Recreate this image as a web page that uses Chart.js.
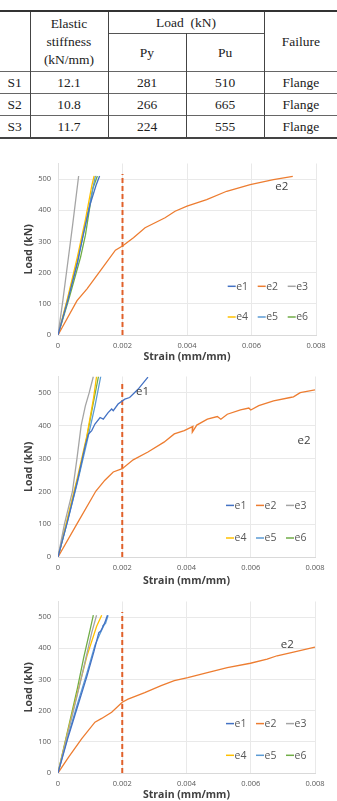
<!DOCTYPE html>
<html><head><meta charset="utf-8">
<script src="https://cdn.jsdelivr.net/npm/chart.js@4.4.1/dist/chart.umd.min.js"></script>
<style>
html,body{margin:0;padding:0;background:#fff;width:337px;height:801px;overflow:hidden;position:relative;}
table.t{position:absolute;left:0;top:10px;width:337px;border-collapse:collapse;table-layout:fixed;font-family:"Liberation Serif","DejaVu Serif","Times New Roman",Times,serif;font-size:13.5px;color:#222;}
table.t td{font-family:"Liberation Serif","DejaVu Serif",serif;text-align:center;vertical-align:middle;padding:0;border-left:1px solid #444;border-right:1px solid #444;line-height:18px;}
table.t tr td:first-child{border-left:none;}
table.t tr td:last-child{border-right:none;}
table.t tr.h1 td{border-top:2.5px solid #333;height:21px;}
table.t tr.h2 td{height:37px;border-top:1px solid #555;}
table.t tr.r td{height:21px;border-top:1px solid #666;}
table.t tr.r.last td{border-bottom:2px solid #444;}
.c{position:absolute;left:0;}
</style></head>
<body>
<table class="t" id="tbl">
<colgroup><col style="width:30px"><col style="width:78px"><col style="width:78px"><col style="width:78px"><col style="width:73px"></colgroup>
<tr class="h1"><td rowspan="2"></td><td rowspan="2">Elastic<br>stiffness<br>(kN/mm)</td><td colspan="2">Load&nbsp;&nbsp;(kN)</td><td rowspan="2">Failure</td></tr>
<tr class="h2"><td>Py</td><td>Pu</td></tr>
</table>
<div class="c" style="top:152px;width:337px;height:211px"><canvas id="c1"></canvas></div>
<div class="c" style="top:365px;width:337px;height:222px"><canvas id="c2"></canvas></div>
<div class="c" style="top:590px;width:337px;height:211px"><canvas id="c3"></canvas></div>
<script>
// ---- table data ----
const specimens = ['S1','S2','S3'];
const stiffness = ['12.1','10.8','11.7'];
const loadPy = [281,266,224];
const loadPu = [510,665,555];
const failure = ['Flange','Flange','Flange'];

// ---- chart data ----
const xTicks = [0,0.002,0.004,0.006,0.008];
const yTicks = [0,100,200,300,400,500];
const yMax = 550;
const seriesLabels = ['e1','e2','e3','e4','e5','e6'];
const yieldStrain = 0.002;

// S1 : [strain, load]
const s1e1 = [[0,0],[0.0003,110],[0.0006,230],[0.0008,330],[0.001,420],[0.00118,480],[0.00129,510]];
const s1e2 = [[0,0],[0.00059,110],[0.0009,148],[0.00131,206],[0.00178,272],[0.00201,286],[0.00234,312],[0.0027,344],[0.00332,376],[0.00363,397],[0.004,413],[0.00461,434],[0.00523,461],[0.00596,482],[0.00668,498],[0.00728,509]];
const s1e3 = [[0,0],[0.00015,110],[0.0003,230],[0.00045,350],[0.00064,510]];
const s1e4 = [[0,0],[0.0003,120],[0.0006,250],[0.00085,370],[0.00105,480],[0.00112,510]];
const s1e5 = [[0,0],[0.0003,115],[0.0006,235],[0.0008,330],[0.001,430],[0.00116,510]];
const s1e6 = [[0,0],[0.00035,120],[0.0007,250],[0.00085,320],[0.001,420],[0.00108,470],[0.00122,510]];

// S2
const s2e1 = [[0,0],[0.0003,110],[0.0006,230],[0.00085,340],[0.00095,375],[0.00105,385],[0.00115,405],[0.00131,425],[0.00141,420],[0.00156,440],[0.00167,451],[0.00172,446],[0.00187,466],[0.00208,481],[0.00223,486],[0.00249,511],[0.0028,548]];
const s2e2 = [[0,0],[0.00059,101],[0.00118,201],[0.00146,234],[0.00172,259],[0.002,269],[0.00234,296],[0.0028,320],[0.0033,350],[0.00362,375],[0.00393,385],[0.0042,398],[0.00418,380],[0.00432,402],[0.00465,420],[0.00496,428],[0.00507,420],[0.00527,435],[0.00568,448],[0.00594,454],[0.006,448],[0.00625,461],[0.00671,476],[0.00723,486],[0.00733,488],[0.00754,501],[0.008,509]];
const s2e3 = [[0,0],[0.0002,100],[0.00045,200],[0.00059,300],[0.00072,400],[0.00085,460],[0.00097,500],[0.0011,550]];
const s2e4 = [[0,0],[0.0003,120],[0.0006,240],[0.0009,370],[0.0011,480],[0.0012,550]];
const s2e5 = [[0,0],[0.0003,110],[0.0006,225],[0.0009,350],[0.00115,460],[0.00133,550]];
const s2e6 = [[0,0],[0.0003,115],[0.0006,235],[0.00065,250],[0.0009,365],[0.0011,470],[0.00126,550]];

// S3
const s3e1 = [[0,0],[0.0003,110],[0.0006,210],[0.0009,310],[0.00112,390],[0.00122,430],[0.00127,450],[0.00133,455],[0.00145,480],[0.00154,506]];
const s3e2 = [[0,0],[0.00033,51],[0.00074,110],[0.00115,163],[0.00136,175],[0.00167,195],[0.002,227],[0.00218,237],[0.0027,258],[0.00321,280],[0.00362,296],[0.00404,306],[0.00465,322],[0.00527,338],[0.00599,352],[0.00651,365],[0.00682,376],[0.00733,388],[0.008,404]];
const s3e3 = [[0,0],[0.0003,125],[0.0006,250],[0.00085,360],[0.00105,450],[0.0012,506]];
const s3e4 = [[0,0],[0.0003,130],[0.0006,255],[0.0009,375],[0.0012,470],[0.00136,506]];
const s3e5 = [[0,0],[0.0003,115],[0.0006,220],[0.0009,320],[0.00115,410],[0.0013,445],[0.00145,478],[0.00138,470],[0.00148,480],[0.00156,506]];
const s3e6 = [[0,0],[0.0003,135],[0.0006,270],[0.0008,370],[0.001,460],[0.0011,506]];

// curve labels [text, strain, load]
const s1Notes = [['e2',0.00694,477]];
const s2Notes = [['e1',0.00263,504],['e2',0.00766,353]];
const s3Notes = [['e2',0.00714,413]];

// ---- build table ----
const tbl = document.getElementById('tbl');
specimens.forEach((s,i)=>{
  const tr = document.createElement('tr');
  tr.className = 'r' + (i===specimens.length-1?' last':'');
  [s, stiffness[i], loadPy[i], loadPu[i], failure[i]].forEach(v=>{
    const td=document.createElement('td'); td.textContent=v; tr.appendChild(td);
  });
  tbl.appendChild(tr);
});

// ---- charts ----
const colors = ['#4472C4','#ED7D31','#A5A5A5','#FFC000','#5B9BD5','#70AD47'];
Chart.defaults.font.family = '"Open Sans", sans-serif';
Chart.defaults.animation = false;

const overlay = {
  id:'overlay',
  afterDatasetsDraw(chart, args, o){
    const {ctx, chartArea:a, scales} = chart;
    ctx.save();
    ctx.font = '11.5px "Open Sans"';
    ctx.fillStyle = '#404040';
    ctx.textAlign='center'; ctx.textBaseline='middle';
    o.notes.forEach(n=>ctx.fillText(n[0], scales.x.getPixelForValue(n[1]), scales.y.getPixelForValue(n[2])));
    ctx.font = '10.5px "Open Sans"';
    ctx.textAlign='left';
    seriesLabels.forEach((lab,i)=>{
      const row = Math.floor(i/3), col = i%3;
      const x0 = a.right - o.legRight + col*30;
      const y = a.bottom - o.legRows[row];
      ctx.strokeStyle = colors[i]; ctx.lineWidth = 1.5;
      ctx.beginPath(); ctx.moveTo(x0,y); ctx.lineTo(x0+8,y); ctx.stroke();
      ctx.fillStyle = '#595959';
      ctx.fillText(lab, x0+8.5, y+0.5);
    });
    ctx.restore();
  }
};

function makeChart(id, series, yieldTop, notes, padRight, xH, legRows, legRight){
  const toPts = arr => arr.map(p=>({x:p[0], y:p[1]}));
  const ds = series.map((s,i)=>({label:seriesLabels[i], data:toPts(s), borderColor:colors[i], borderWidth:1.3, pointRadius:0, tension:0, fill:false}));
  ds.push({label:'yield', data:[{x:yieldStrain,y:0},{x:yieldStrain,y:yieldTop}], borderColor:'#E0602A', borderWidth:2, borderDash:[5,3], pointRadius:0});
  new Chart(document.getElementById(id), {
    type:'line',
    data:{datasets:ds},
    plugins:[overlay],
    options:{
      responsive:true, maintainAspectRatio:false,
      layout:{padding:{left:23, right:padRight, top:10, bottom:0}},
      plugins:{legend:{display:false}, tooltip:{enabled:false}, overlay:{notes, legRows, legRight}},
      scales:{
        x:{type:'linear', min:0, max:0.008,
           afterBuildTicks:sc=>{sc.ticks = xTicks.map(v=>({value:v}));},
           afterFit:sc=>{sc.height = xH;},
           ticks:{padding:6, font:{size:7.5}, color:'#595959', callback:v=> v===0?'0':Number(v).toFixed(3)},
           grid:{color:'#E9E9E9', drawTicks:false},
           border:{color:'#D9D9D9'},
           title:{display:true, text:'Strain (mm/mm)', padding:0, font:{size:10.5, weight:'bold'}, color:'#404040'}},
        y:{type:'linear', min:0, max:yMax,
           afterBuildTicks:sc=>{sc.ticks = yTicks.map(v=>({value:v}));},
           afterFit:sc=>{sc.width = 35;},
           ticks:{padding:7, font:{size:7.5}, color:'#595959'},
           grid:{color:'#E9E9E9', drawTicks:false},
           border:{color:'#E0E0E0'},
           title:{display:true, text:'Load (kN)', padding:0, font:{size:10.5, weight:'bold'}, color:'#404040'}}
      }
    }
  });
}

makeChart('c1', [s1e1,s1e2,s1e3,s1e4,s1e5,s1e6], 516, s1Notes, 21, 28, [48.7,18], 88.3);
makeChart('c2', [s2e1,s2e2,s2e3,s2e4,s2e5,s2e6], 528, s2Notes, 22, 30, [51.6,19], 89);
makeChart('c3', [s3e1,s3e2,s3e3,s3e4,s3e5,s3e6], 516, s3Notes, 22, 28, [49.4,17.7], 89);
</script>
</body></html>
